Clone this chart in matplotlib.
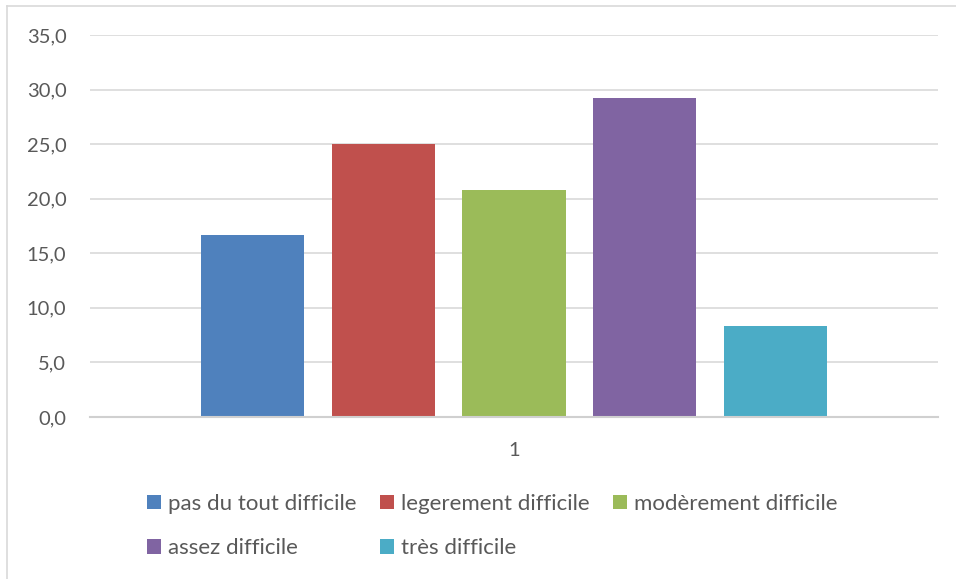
import matplotlib
matplotlib.use("Agg")
import matplotlib.pyplot as plt
from matplotlib.lines import Line2D
from matplotlib.patches import Patch

plt.rcParams['font.family'] = ['Lato', 'DejaVu Sans']

categories = ["pas du tout difficile", "legerement difficile", "modèrement difficile",
              "assez difficile", "très difficile"]
values = [16.7, 25.0, 20.8, 29.2, 8.3]
colors = ["#4f81bd", "#c0504d", "#9bbb59", "#8064a2", "#4bacc6"]
y_ticks = [0, 5, 10, 15, 20, 25, 30, 35]
group_label = "1"

text_color = "#595959"

fig = plt.figure(figsize=(9.56, 5.79), dpi=100)
W, H = 956, 579
ax = fig.add_axes([90 / W, 1 - 417 / H, (938 - 90) / W, (417 - 35) / H])

spacing = 0.154
width = 0.1215
n = len(values)
for i, (v, c, lab) in enumerate(zip(values, colors, categories)):
    ax.bar(1 + (i - (n - 1) / 2) * spacing, v, width=width, color=c, label=lab, zorder=3)

ax.set_xlim(0.5, 1.5)
ax.set_ylim(0, 35)
ax.set_yticks(y_ticks)
ax.set_yticklabels([f"{t:.1f}".replace(".", ",") for t in y_ticks])
ax.set_xticks([1])
ax.set_xticklabels([group_label])
ax.tick_params(axis='both', length=0, labelsize=14.5, labelcolor=text_color)
ax.tick_params(axis='y', pad=17)
ax.tick_params(axis='x', pad=18)
ax.grid(axis='y', color="#d9d9d9", linewidth=1.2, zorder=0)
for s in ["top", "right", "left"]:
    ax.spines[s].set_visible(False)
ax.spines["bottom"].set_color("#d0d0d0")
ax.spines["bottom"].set_linewidth(1.5)
ax.spines["bottom"].set_zorder(4)

# legend: three columns, filled row by row
handles = [Patch(facecolor=c, edgecolor='none') for c in colors]
order = [0, 3, 1, 4, 2]
leg = fig.legend([handles[i] for i in order], [categories[i] for i in order],
                 ncol=3, loc="center", bbox_to_anchor=(492 / W, 1 - 526 / H),
                 frameon=False, fontsize=16, labelcolor=text_color,
                 handlelength=0.65, handleheight=0.65, handletextpad=0.3,
                 columnspacing=1.05, labelspacing=1.1)

# outer chart border (top and left edges)
fig.add_artist(Line2D([7 / W, 1], [1 - 6 / H, 1 - 6 / H], color="#d9d9d9", linewidth=1.2,
                      transform=fig.transFigure))
fig.add_artist(Line2D([7 / W, 7 / W], [0, 1 - 6 / H], color="#d9d9d9", linewidth=1.2,
                      transform=fig.transFigure))

fig.savefig("out.png", dpi=100, facecolor="white")
